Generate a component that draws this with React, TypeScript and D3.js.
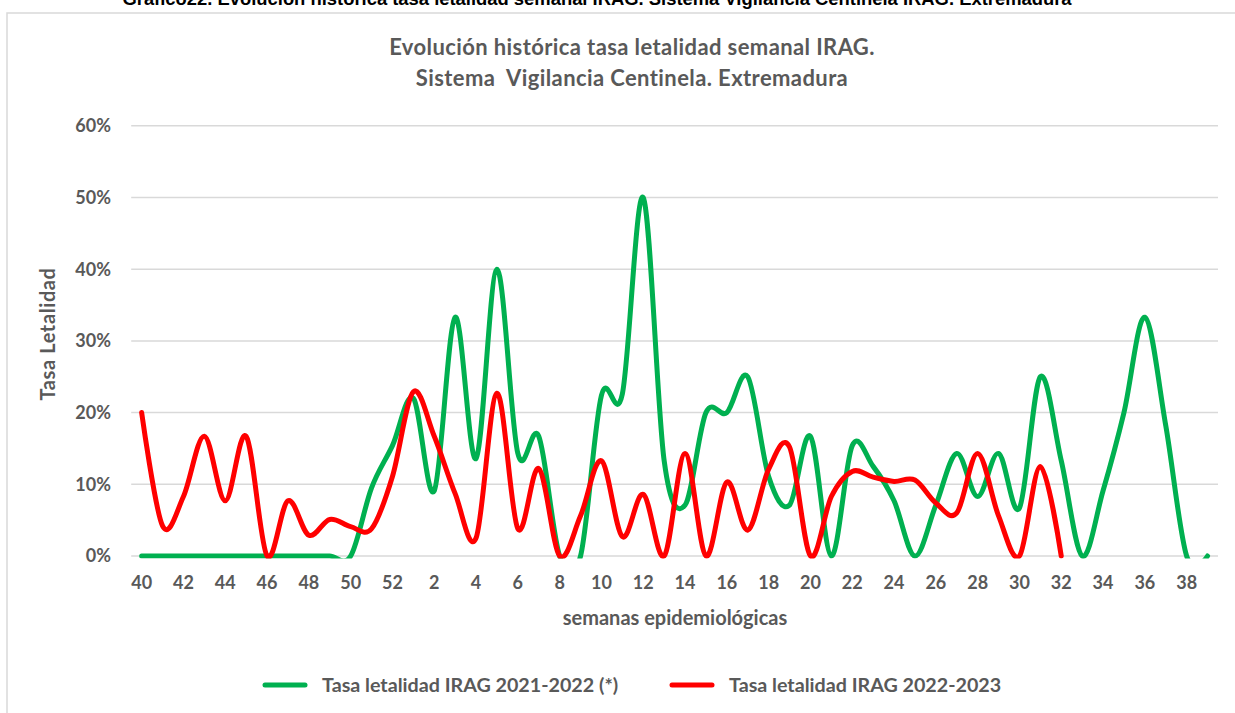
import React, { useEffect, useRef } from "react";
import * as d3 from "d3";

// semanas epidemiologicas (temporada 40 -> 39)
const weeks = [40, 41, 42, 43, 44, 45, 46, 47, 48, 49, 50, 51, 52,
  1, 2, 3, 4, 5, 6, 7, 8, 9, 10, 11, 12, 13, 14, 15, 16, 17, 18, 19, 20,
  21, 22, 23, 24, 25, 26, 27, 28, 29, 30, 31, 32, 33, 34, 35, 36, 37, 38, 39];

// tasa letalidad (%) 2021-2022
const green2122 = [0, 0, 0, 0, 0, 0, 0, 0, 0, 0, 0, 9.5, 15.4,
  22, 9.1, 33.3, 13.6, 40, 14.3, 16.7, 0, 0, 22.4, 22.6, 50, 13.3, 7.1, 20, 20, 25, 11.1, 7.1, 16.7,
  0, 15.4, 12.5, 7.7, 0, 7.1, 14.3, 8.3, 14.3, 6.7, 25, 13.3, 0, 9.1, 20, 33.3, 18.2, 0, 0];

// tasa letalidad (%) 2022-2023 (hasta semana 32)
const red2223 = [20, 4.2, 8.3, 16.7, 7.7, 16.7, 0, 7.7, 2.9, 5.1, 4.1, 3.8, 11.1,
  22.9, 16.7, 8.7, 2.5, 22.7, 3.8, 12.2, 0, 5.6, 13.3, 2.7, 8.6, 0, 14.3, 0, 10.3, 3.6, 12.1, 15.2, 0,
  8.3, 11.8, 11, 10.4, 10.6, 7.4, 6, 14.3, 5.6, 0, 12.5, 0];

const yTicks = [0, 10, 20, 30, 40, 50, 60];
const seriesNames = ["Tasa letalidad IRAG 2021-2022 (*)", "Tasa letalidad IRAG 2022-2023"];

const W = 1235, H = 713;
const FONT = "Lato, 'Liberation Sans', sans-serif";
const GREY = "#595959";

function Chart() {
  const ref = useRef<SVGSVGElement>(null);

  useEffect(() => {
    const svg = d3.select(ref.current);
    svg.selectAll("*").remove();

    const left = 131.2, right = 1218, top = 125.8, bottom = 556;

    const x = d3.scalePoint<number>().domain(d3.range(weeks.length)).range([left, right]).padding(0.5);
    const y = d3.scaleLinear().domain([0, 60]).range([bottom, top]);

    // caption (cut by the top of the page in the original)
    svg.append("text")
      .attr("x", 597).attr("y", 4.5)
      .attr("text-anchor", "middle")
      .attr("font-family", "'Liberation Sans', Arial, sans-serif")
      .attr("font-weight", "bold").attr("font-size", 18.4).attr("fill", "#000")
      .text("Gráfico22. Evolución histórica tasa letalidad semanal IRAG. Sistema Vigilancia Centinela IRAG. Extremadura");

    // chart area border
    svg.append("rect")
      .attr("x", 7).attr("y", 13).attr("width", 1260).attr("height", 720)
      .attr("fill", "#fff").attr("stroke", "#d9d9d9").attr("stroke-width", 1.5);

    const title = svg.append("text")
      .attr("text-anchor", "middle")
      .attr("font-family", FONT).attr("font-weight", "bold").attr("font-size", 22)
      .attr("letter-spacing", 0.4).attr("fill", GREY);
    title.append("tspan").attr("x", 632).attr("y", 55).text("Evolución histórica tasa letalidad semanal IRAG.");
    title.append("tspan").attr("x", 632).attr("y", 86).attr("xml:space", "preserve")
      .text("Sistema  Vigilancia Centinela. Extremadura");

    // grid
    svg.append("g").selectAll("line").data(yTicks).enter().append("line")
      .attr("x1", left).attr("x2", right)
      .attr("y1", d => y(d)).attr("y2", d => y(d))
      .attr("stroke", "#d9d9d9").attr("stroke-width", 1.5);

    // y labels
    svg.append("g").selectAll("text").data(yTicks).enter().append("text")
      .attr("x", 111).attr("y", d => y(d)).attr("dy", "0.35em")
      .attr("text-anchor", "end")
      .attr("font-family", FONT).attr("font-weight", "bold").attr("font-size", 18).attr("fill", GREY)
      .text(d => d + "%");

    // x labels (every other week)
    svg.append("g").selectAll("text").data(weeks.map((w, i) => [w, i]).filter(d => d[1] % 2 == 0))
      .enter().append("text")
      .attr("x", d => x(d[1])!).attr("y", 583).attr("dy", "0.35em")
      .attr("text-anchor", "middle")
      .attr("font-family", FONT).attr("font-weight", "bold").attr("font-size", 18).attr("fill", GREY)
      .text(d => d[0]);

    svg.append("text")
      .attr("x", 675).attr("y", 618).attr("dy", "0.35em")
      .attr("text-anchor", "middle")
      .attr("font-family", FONT).attr("font-weight", "bold").attr("font-size", 20).attr("fill", GREY)
      .text("semanas epidemiológicas");

    svg.append("text")
      .attr("transform", "translate(48,334) rotate(-90)")
      .attr("dy", "0.35em")
      .attr("text-anchor", "middle")
      .attr("font-family", FONT).attr("font-weight", "bold").attr("font-size", 20)
      .attr("letter-spacing", 0.6).attr("fill", GREY)
      .text("Tasa Letalidad");

    // lines, clipped to the plot area like excel does
    svg.append("clipPath").attr("id", "plotclip")
      .append("rect").attr("x", left - 5).attr("y", top - 20)
      .attr("width", right - left + 10).attr("height", bottom - top + 22.5);

    const line = d3.line<number>()
      .x((d, i) => x(i)!)
      .y(d => y(d))
      .curve(d3.curveCardinal.tension(0));

    const g = svg.append("g").attr("clip-path", "url(#plotclip)");
    g.append("path").attr("d", line(green2122))
      .attr("fill", "none").attr("stroke", "#00b050").attr("stroke-width", 5)
      .attr("stroke-linecap", "round").attr("stroke-linejoin", "round");
    g.append("path").attr("d", line(red2223))
      .attr("fill", "none").attr("stroke", "#ff0000").attr("stroke-width", 5)
      .attr("stroke-linecap", "round").attr("stroke-linejoin", "round");

    // legend
    const legend = [
      { name: seriesNames[0], color: "#00b050", x: 265 },
      { name: seriesNames[1], color: "#ff0000", x: 672 },
    ];
    const lg = svg.append("g").selectAll("g").data(legend).enter().append("g");
    lg.append("line")
      .attr("x1", d => d.x).attr("x2", d => d.x + 40)
      .attr("y1", 685).attr("y2", 685)
      .attr("stroke", d => d.color).attr("stroke-width", 5).attr("stroke-linecap", "round");
    lg.append("text")
      .attr("x", d => d.x + 57).attr("y", 685).attr("dy", "0.35em")
      .attr("font-family", FONT).attr("font-weight", "bold").attr("font-size", 19.7).attr("fill", GREY)
      .text(d => d.name);
  }, []);

  return <svg ref={ref} width={W} height={H}
    style={{ position: "absolute", left: 0, top: 0, display: "block", background: "#fff" }} />;
}

export default function App() {
  return <Chart />;
}
